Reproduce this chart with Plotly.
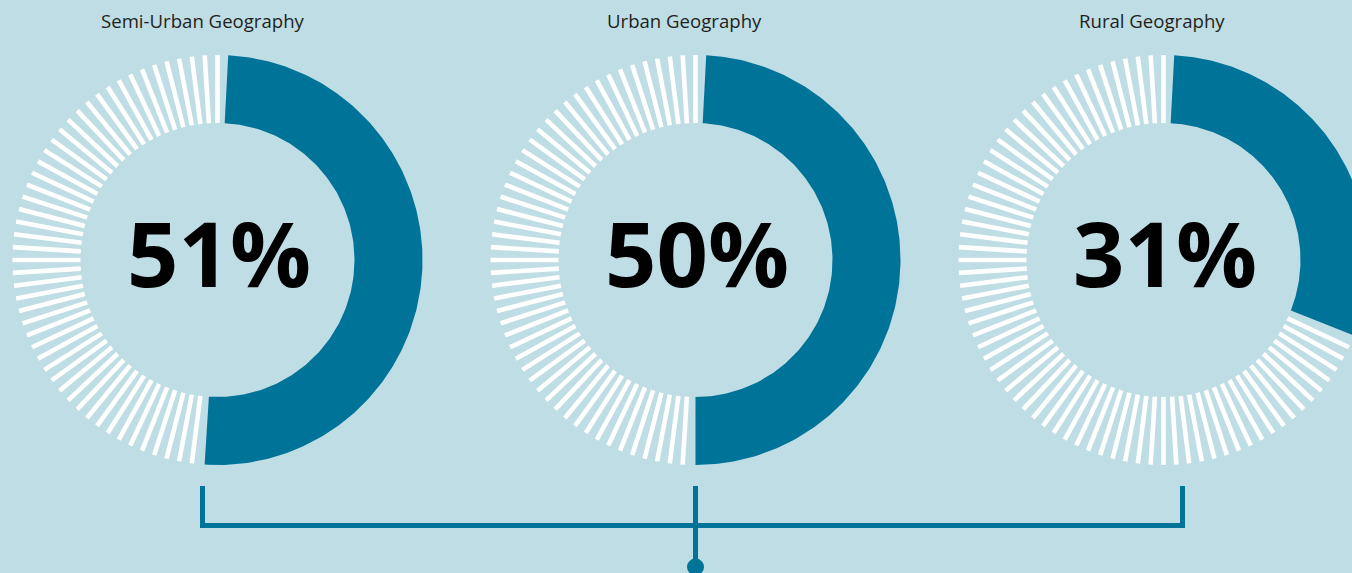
import numpy as np
import plotly.graph_objects as go

# data
geographies = ["Semi-Urban Geography", "Urban Geography", "Rural Geography"]
shares = [51, 50, 31]  # percent
n_slots = 100  # one stripe per percent

# layout constants (pixels, y measured from top)
W, H = 1352, 573
centers_x = [217.5, 695.5, 1163.5]
title_x = [202.5, 684.5, 1151.5]
cy = 260
r_out, r_in = 205, 137
start_deg = 3.0

TEAL = "#007398"
BG = "#BFDDE4"

fig = go.Figure()

for cx, share in zip(centers_x, shares):
    # filled arc for the share, clockwise from 12 o'clock
    th = np.radians(np.linspace(start_deg, share * 3.6, 200))
    xs = np.concatenate([cx + r_out * np.sin(th), cx + r_in * np.sin(th[::-1])])
    ys = np.concatenate([cy - r_out * np.cos(th), cy - r_in * np.cos(th[::-1])])
    fig.add_trace(go.Scatter(
        x=xs, y=ys, mode="lines", fill="toself", fillcolor=TEAL,
        line=dict(width=0, color=TEAL), hoverinfo="skip", showlegend=False,
    ))

    # white radial stripes for the remainder
    sx, sy = [], []
    for k in range(share + 1, n_slots + 1):
        a = np.radians(k * 360 / n_slots)
        sx += [cx + r_in * np.sin(a), cx + r_out * np.sin(a), None]
        sy += [cy - r_in * np.cos(a), cy - r_out * np.cos(a), None]
    fig.add_trace(go.Scatter(
        x=sx, y=sy, mode="lines", line=dict(width=4.6, color="white"),
        hoverinfo="skip", showlegend=False,
    ))

annotations = []
for cx, tx, name, share in zip(centers_x, title_x, geographies, shares):
    annotations.append(dict(
        x=tx, y=20.5, xref="x", yref="y", text=name, showarrow=False,
        font=dict(family="Open Sans", size=18.6, color="#231F20"),
    ))
    annotations.append(dict(
        x=cx + 1, y=251.5, xref="x", yref="y", text=f"<b>{share}%</b>", showarrow=False,
        font=dict(family="Open Sans", size=90, color="#000000"),
    ))

shapes = [
    dict(type="path", xref="x", yref="y",
         path="M 202.5 486 L 202.5 525.5 L 1182.5 525.5 L 1182.5 486",
         line=dict(color=TEAL, width=5)),
    dict(type="line", xref="x", yref="y", x0=695.5, x1=695.5, y0=486, y1=567,
         line=dict(color=TEAL, width=5)),
    dict(type="circle", xref="x", yref="y", x0=687, x1=704, y0=558.5, y1=575.5,
         fillcolor=TEAL, line=dict(width=0)),
]

fig.update_layout(
    width=W, height=H,
    margin=dict(l=0, r=0, t=0, b=0),
    paper_bgcolor=BG, plot_bgcolor=BG,
    xaxis=dict(range=[0, W], visible=False, fixedrange=True),
    yaxis=dict(range=[H, 0], visible=False, fixedrange=True),
    annotations=annotations,
    shapes=shapes,
)

# drop the browser's default 8px body margin so the figure fills the window
fig.write_html(
    "out.html",
    config={"displayModeBar": False},
    post_script="document.body.style.margin='0';document.body.style.overflow='hidden';",
)
